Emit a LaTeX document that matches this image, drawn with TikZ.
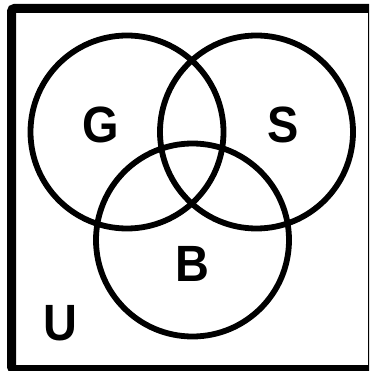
\documentclass[tikz,border=0pt]{standalone}
\usepackage{fontspec}
\setmainfont{Liberation Sans}[FakeStretch=0.92]
\begin{document}
\begin{tikzpicture}[x=1pt,y=-1pt,
  setcircle/.style={circle,draw=black,line width=5.8pt,minimum size=193pt,inner sep=0pt},
  setlabel/.style={anchor=base,inner sep=0pt,font=\fontsize{51}{60}\selectfont\bfseries},
  frame/.style={draw=black,line width=9pt,rounded corners=3pt}]
\useasboundingbox (0,0) rectangle (369,371);
\clip (0,0) rectangle (369,371);
\fill[white] (0,0) rectangle (369,371);
\draw[frame] (11.5,8.5) rectangle (372.5,369.5);
\node[setcircle] (G) at (127,132) {};
\node[setcircle] (S) at (256.5,132) {};
\node[setcircle] (B) at (192.5,240) {};
\node[setlabel] (lG) at (101,142.5) {G};
\node[setlabel] (lS) at (283,142.5) {S};
\node[setlabel] (lB) at (192,281.5) {B};
\node[setlabel] (lU) at (60,340.5) {U};
\end{tikzpicture}
\end{document}
